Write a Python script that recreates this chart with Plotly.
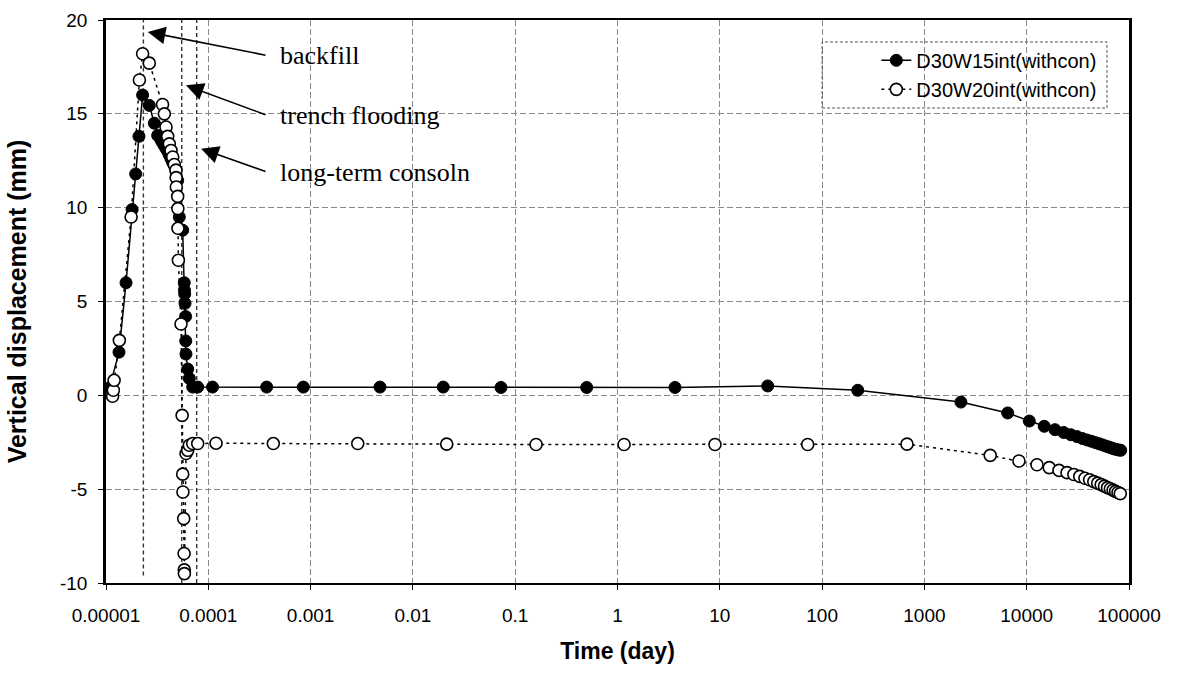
import plotly.graph_objects as go
import numpy as np

# ---- data ----
t_w15 = [1.08e-5, 1.34e-5, 1.57e-5, 1.80e-5, 1.95e-5, 2.10e-5, 2.28e-5, 2.65e-5,
         2.97e-5, 3.20e-5, 3.45e-5, 3.58e-5, 3.72e-5, 3.86e-5, 4.01e-5, 4.16e-5,
         4.32e-5, 4.49e-5, 4.65e-5, 4.83e-5, 5.02e-5, 5.21e-5, 5.62e-5, 5.82e-5,
         5.85e-5, 5.88e-5, 5.92e-5, 6.00e-5, 6.02e-5, 6.05e-5, 6.29e-5, 6.52e-5,
         7.04e-5, 7.88e-5, 1.10e-4, 3.72e-4, 8.5e-4, 4.77e-3, 0.0198, 0.0726,
         0.5, 3.65, 29.4, 223, 2275, 6520, 10600, 14850, 18900, 23000, 27000,
         31000, 35000, 39000, 43000, 47000, 51000, 55000, 59000, 63000, 67000,
         71000, 75000, 79000, 83000]
d_w15 = [0.4, 2.3, 6.0, 9.9, 11.8, 13.8, 16.0, 15.45,
         14.5, 13.85, 13.6, 13.45, 13.3, 13.15, 13.0, 12.8,
         12.6, 12.4, 12.25, 12.0, 11.45, 9.5, 8.8, 6.0,
         5.6, 5.4, 4.9, 4.2, 2.9, 2.2, 1.4, 0.9,
         0.44, 0.44, 0.44, 0.44, 0.44, 0.44, 0.44, 0.42,
         0.42, 0.42, 0.5, 0.27, -0.36, -0.94, -1.37, -1.65, -1.83, -1.98, -2.1,
         -2.2, -2.3, -2.38, -2.45, -2.52, -2.58, -2.64, -2.7, -2.75, -2.8,
         -2.85, -2.88, -2.91, -2.93]

t_w20 = [1.16e-5, 1.18e-5, 1.20e-5, 1.35e-5, 1.76e-5, 2.12e-5, 2.28e-5, 2.65e-5,
         3.57e-5, 3.72e-5, 3.86e-5, 4.01e-5, 4.16e-5, 4.32e-5, 4.49e-5, 4.65e-5,
         4.83e-5, 4.85e-5, 4.87e-5, 5.02e-5, 5.04e-5, 5.05e-5, 5.10e-5, 5.41e-5,
         5.55e-5, 5.62e-5, 5.65e-5, 5.75e-5, 5.80e-5, 5.82e-5, 5.84e-5, 6.06e-5,
         6.29e-5, 6.52e-5, 7.04e-5, 7.88e-5, 1.19e-4, 4.32e-4, 2.89e-3, 0.0214,
         0.16, 1.16, 8.97, 72.3, 676, 4400, 8400, 12600, 16600, 20700, 24800,
         28900, 33000, 37100, 41200, 45300, 49400, 53500, 57600, 61700, 65800,
         69900, 74000, 78100, 82200]
d_w20 = [-0.05, 0.27, 0.8, 2.93, 9.5, 16.8, 18.2, 17.7,
         15.5, 15.0, 14.3, 13.8, 13.4, 13.05, 12.7, 12.3,
         12.0, 11.6, 11.1, 10.6, 9.95, 8.9, 7.2, 3.8,
         -1.07, -4.2, -5.15, -6.57, -8.43, -9.3, -9.5, -3.1,
         -2.93, -2.66, -2.57, -2.57, -2.55, -2.57, -2.57, -2.6,
         -2.62, -2.62, -2.62, -2.62, -2.6, -3.2, -3.5, -3.7, -3.85, -4.0, -4.12,
         -4.22, -4.32, -4.42, -4.5, -4.6, -4.68, -4.76, -4.84, -4.92, -4.98,
         -5.05, -5.12, -5.18, -5.24]

stage_names = ["backfill", "trench flooding", "long-term consoln"]
stage_times = [2.32e-5, 5.5e-5, 7.7e-5]
stage_ybottom = [-9.6, -10, -10]

x_tickvals = [1e-5, 1e-4, 1e-3, 1e-2, 1e-1, 1, 10, 100, 1000, 10000, 100000]
x_ticktext = ["0.00001", "0.0001", "0.001", "0.01", "0.1", "1", "10", "100",
              "1000", "10000", "100000"]
y_tickvals = [-10, -5, 0, 5, 10, 15, 20]
y_ticktext = ["-10", "-5", "0", "5", "10", "15", "20"]

# arrow tips / tails (data units) and label positions for the stage annotations
arrow_tip_t = [2.56e-5, 6.05e-5, 8.5e-5]
arrow_tip_d = [19.36, 16.52, 13.14]
arrow_tail_t = [3.75e-4, 3.75e-4, 3.75e-4]
label_t = [4.8e-4, 4.8e-4, 4.8e-4]
label_d = [18.11, 14.92, 11.9]

fig = go.Figure()

# vertical stage lines
for name, tt, yb in zip(stage_names, stage_times, stage_ybottom):
    fig.add_trace(go.Scatter(x=[tt, tt], y=[yb, 20], mode="lines",
                             line=dict(color="#333", width=1.4, dash="4px,3px"),
                             showlegend=False, hoverinfo="skip"))

fig.add_trace(go.Scatter(
    x=t_w15, y=d_w15, mode="lines+markers", name="D30W15int(withcon)",
    line=dict(color="black", width=1.5),
    marker=dict(symbol="circle", size=12, color="black",
                line=dict(color="black", width=1))))
fig.add_trace(go.Scatter(
    x=t_w20, y=d_w20, mode="lines+markers", name="D30W20int(withcon)",
    line=dict(color="black", width=1.5, dash="3px,4px"),
    marker=dict(symbol="circle", size=12, color="white",
                line=dict(color="black", width=1.6))))

annotations = []
for tt, dd, at, lt, ld, name in zip(arrow_tip_t, arrow_tip_d, arrow_tail_t,
                                    label_t, label_d, stage_names):
    annotations.append(dict(x=np.log10(tt), y=dd, xref="x", yref="y", text="",
                            showarrow=True, arrowhead=2, arrowsize=2.2,
                            arrowwidth=1.6, arrowcolor="black",
                            ax=np.log10(at), ay=ld, axref="x", ayref="y"))
    annotations.append(dict(x=np.log10(lt), y=ld, xref="x", yref="y", text=name,
                            showarrow=False, xanchor="left", yanchor="middle",
                            font=dict(family="Liberation Serif", size=26, color="black")))

fig.update_layout(
    width=1182, height=692,
    margin=dict(l=106, r=53, t=20, b=109),
    paper_bgcolor="white", plot_bgcolor="white",
    font=dict(family="Liberation Sans", color="black"),
    annotations=annotations,
    legend=dict(x=0.753, y=0.963, xanchor="left", yanchor="top",
                bgcolor="rgba(255,255,255,0)", borderwidth=0,
                font=dict(family="Liberation Sans", size=20, color="black")),
    shapes=[dict(type="rect", xref="paper", yref="paper",
                 x0=0.700, x1=0.9785, y0=0.8437, y1=0.961,
                 line=dict(color="#555", width=1, dash="3px,2px"),
                 fillcolor="rgba(0,0,0,0)")],
)

fig.update_xaxes(type="log", range=[-5, 5], tickvals=x_tickvals, ticktext=x_ticktext,
                 automargin=False,
                 tickfont=dict(family="Liberation Sans", size=19, color="black"),
                 ticks="outside", ticklen=5, tickcolor="black", ticklabelstandoff=9,
                 showgrid=True, gridcolor="#888", gridwidth=1, griddash="6px,3px",
                 showline=True, linecolor="black", linewidth=2, mirror=True,
                 zeroline=False,
                 title=dict(text="<b>Time (day)</b>", standoff=18,
                            font=dict(family="Liberation Sans", size=23, color="black")))
fig.update_yaxes(range=[-10, 20], tickvals=y_tickvals, ticktext=y_ticktext,
                 automargin=False,
                 tickfont=dict(family="Liberation Sans", size=19, color="black"),
                 ticks="outside", ticklen=5, tickcolor="black", ticklabelstandoff=7,
                 showgrid=True, gridcolor="#888", gridwidth=1, griddash="6px,3px",
                 showline=True, linecolor="black", linewidth=2.5, mirror=True,
                 zeroline=False,
                 title=dict(text="<b>Vertical displacement (mm)</b>", standoff=27,
                            font=dict(family="Liberation Sans", size=25, color="black")))

fig.write_html("out.html", config={"displayModeBar": False},
               post_script="document.body.style.margin='0';")
